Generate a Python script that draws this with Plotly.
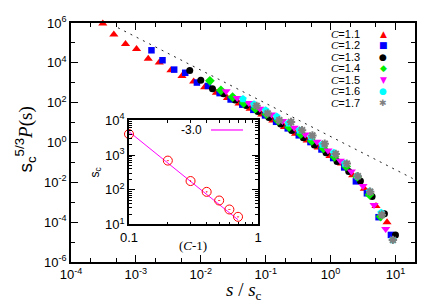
import numpy as np
import plotly.graph_objects as go

# ---------------- data (log10 values) ----------------
c11_lx = [-3.51,-3.34,-3.16,-2.99,-2.81,-2.64,-2.46,-2.29,-2.11,-1.94,-1.76,-1.59,-1.41,-1.24,-1.06,-0.89,-0.71,-0.54,-0.36,-0.19,-0.01,0.17,0.34,0.52,0.70,0.87]
c11_ly = [5.98,5.42,4.94,4.69,4.21,4.02,3.63,3.34,3.06,2.78,2.50,2.24,1.96,1.70,1.40,1.10,0.78,0.44,0.10,-0.25,-0.68,-1.05,-1.65,-2.32,-3.19,-4.0]
c12_lx = [-2.76,-2.59,-2.41,-2.24,-2.06,-1.89,-1.71,-1.54,-1.36,-1.19,-1.01,-0.84,-0.66,-0.49,-0.31,-0.14,0.04,0.21,0.39,0.56,0.74,0.93]
c12_ly = [4.63,4.13,3.66,3.50,3.01,2.84,2.48,2.16,1.90,1.64,1.36,1.04,0.71,0.36,0.02,-0.35,-0.78,-1.25,-1.95,-2.55,-3.75,-4.64]
c13_lx = [-2.17,-2.0,-1.82,-1.65,-1.47,-1.30,-1.12,-0.95,-0.77,-0.60,-0.42,-0.25,-0.07,0.10,0.28,0.46,0.64,0.83,1.0]
c13_ly = [3.61,3.13,2.70,2.45,2.14,1.86,1.56,1.26,0.93,0.60,0.24,-0.12,-0.52,-0.95,-1.45,-1.93,-2.71,-3.58,-4.64]
c14_lx = [-1.86,-1.69,-1.51,-1.34,-1.16,-0.99,-0.81,-0.64,-0.46,-0.29,-0.11,0.06,0.24,0.41,0.60,0.77]
c14_ly = [3.10,2.62,2.28,1.98,1.70,1.42,1.10,0.77,0.42,0.08,-0.30,-0.72,-1.20,-1.72,-2.62,-3.72]
c15_lx = [-1.61,-1.44,-1.26,-1.09,-0.91,-0.74,-0.56,-0.39,-0.21,-0.04,0.15,0.32,0.50,0.67,0.85]
c15_ly = [2.57,2.24,1.98,1.70,1.40,1.08,0.74,0.40,0.04,-0.40,-0.92,-1.45,-2.18,-3.14,-4.34]
c16_lx = [-1.35,-1.18,-1.0,-0.83,-0.65,-0.48,-0.30,-0.13,0.05,0.22,0.41,0.60,0.78,0.96]
c16_ly = [2.18,1.92,1.62,1.30,0.97,0.62,0.27,-0.10,-0.52,-1.05,-1.69,-2.45,-3.53,-4.89]
c17_lx = [-1.14,-0.97,-0.79,-0.61,-0.44,-0.28,-0.09,0.08,0.25,0.42,0.61,0.79,0.96]
c17_ly = [1.84,1.46,1.12,1.03,0.62,0.35,-0.06,-0.58,-1.06,-1.69,-2.47,-3.63,-4.89]

series_labels = ["1.1", "1.2", "1.3", "1.4", "1.5", "1.6", "1.7"]

# reference slope -5/3 line endpoints
ref_x = [5.3e-4, 20]
ref_y = [5.76e5, 0.0136]

# inset: s_c vs (C-1)
inset_cm1 = [0.1, 0.2, 0.3, 0.4, 0.5, 0.6, 0.7]
inset_sc = [4000, 690, 178, 87, 49, 27, 16.6]
fit_x = [0.1, 0.7]
fit_y = [4700, 13.7]
fit_label = "-3.0"

# ---------------- styles ----------------
styles = [
    dict(color="#ff0000", symbol="triangle-up", size=8),
    dict(color="#0000ff", symbol="square", size=6.5),
    dict(color="#000000", symbol="circle", size=7),
    dict(color="#00ee00", symbol="diamond", size=7.5),
    dict(color="#ff00ff", symbol="triangle-down", size=8),
    dict(color="#00ffff", symbol="pentagon", size=8),
    dict(color="#808080", symbol="asterisk-open", size=7),
]
glyphs = ["▲", "■", "●", "◆", "▼", "●", "✱"]

series = [(c11_lx, c11_ly), (c12_lx, c12_ly), (c13_lx, c13_ly), (c14_lx, c14_ly),
          (c15_lx, c15_ly), (c16_lx, c16_ly), (c17_lx, c17_ly)]

fig = go.Figure()

fig.add_trace(go.Scatter(x=ref_x, y=ref_y, mode="lines",
                         line=dict(color="#222222", width=1, dash="2px,5px"),
                         showlegend=False, xaxis="x", yaxis="y"))

for (lx, ly), st, lab in zip(series, styles, series_labels):
    mk = dict(color=st["color"], symbol=st["symbol"], size=st["size"], line=dict(width=0))
    if st["symbol"] == "asterisk-open":
        mk["line"] = dict(color=st["color"], width=2)
    fig.add_trace(go.Scatter(x=10 ** np.array(lx), y=10 ** np.array(ly), mode="markers",
                             marker=mk, name="C=" + lab, showlegend=False,
                             cliponaxis=False, xaxis="x", yaxis="y"))

# inset
fig.add_trace(go.Scatter(x=fit_x, y=fit_y, mode="lines", line=dict(color="#ff00ff", width=1),
                         showlegend=False, xaxis="x2", yaxis="y2"))
fig.add_trace(go.Scatter(x=inset_cm1, y=inset_sc, mode="markers",
                         marker=dict(symbol="circle-open-dot", size=9, color="#ff0000",
                                     line=dict(width=1, color="#ff0000")),
                         showlegend=False, cliponaxis=False, xaxis="x2", yaxis="y2"))

def pw(e):
    return "10<sup>%d</sup>" % e

tickfont = dict(family="Liberation Sans, Arial, sans-serif", size=13, color="black")
axis_common = dict(type="log", showline=True, linecolor="black", linewidth=1.5, mirror="allticks",
                   ticks="inside", tickcolor="black", tickwidth=1.2, showgrid=False, zeroline=False,
                   tickfont=tickfont)

x_major = [10.0 ** e for e in range(-4, 2)]
x_minor = [m * 10.0 ** e for e in range(-4, 2) for m in (2, 5) if m * 10.0 ** e <= 20]
y_major = [10.0 ** e for e in range(-6, 7, 2)]
y_minor = [10.0 ** e for e in range(-5, 6, 2)]

# page body has an 8px default margin: plot area lands at x 71..415, y 14..262
fig.update_layout(
    width=436, height=305,
    margin=dict(l=63, r=29, t=6, b=51),
    paper_bgcolor="white", plot_bgcolor="white",
    xaxis=dict(**axis_common, range=[-4, np.log10(20)], domain=[0, 1],
               tickvals=x_major, ticktext=[pw(e) for e in range(-4, 2)], ticklen=7,
               minor=dict(tickvals=x_minor, ticklen=4, ticks="inside", tickcolor="black")),
    yaxis=dict(**axis_common, range=[-6, 6], domain=[0, 1],
               tickvals=y_major, ticktext=[pw(e) for e in range(-6, 7, 2)], ticklen=7,
               minor=dict(tickvals=y_minor, ticklen=4, ticks="inside", tickcolor="black")),
    xaxis2=dict(**axis_common, range=[-1, 0], domain=[0.1686, 0.5436], anchor="y2",
                tickvals=[0.1, 1], ticktext=["0.1", "1"], ticklen=6,
                minor=dict(tickvals=[0.2, 0.3, 0.4, 0.5, 0.6, 0.7, 0.8, 0.9], ticklen=3,
                           ticks="inside", tickcolor="black")),
    yaxis2=dict(**axis_common, range=[1, 4], domain=[0.157, 0.593], anchor="x2",
                tickvals=[10, 100, 1000, 10000], ticktext=[pw(e) for e in range(1, 5)], ticklen=6,
                minor=dict(tickvals=[m * 10.0 ** e for e in range(1, 4) for m in range(2, 10)],
                           ticklen=3, ticks="inside", tickcolor="black")),
    showlegend=False,
)

serif = "Liberation Serif, Times New Roman, serif"
sans = "Liberation Sans, Arial, sans-serif"

def px2paper(px, py):
    return (px - 71) / 344.0, (262 - py) / 248.0

def note(px, py, text, font, xanchor="center", angle=0):
    x, y = px2paper(px, py)
    return dict(x=x, y=y, xref="paper", yref="paper", showarrow=False, xanchor=xanchor,
                yanchor="middle", textangle=angle, text=text, font=font)

ann = []
ann.append(note(244, 292, "<i>s</i> / <i>s</i><sub>c</sub>", dict(family=serif, size=19, color="black")))
ann.append(note(26, 135, "s<sub>c</sub><sup>5/3</sup><span style='font-family:Liberation Serif'><i>P</i>(s)</span>",
                dict(family=sans, size=19, color="black"), angle=-90))
ann.append(note(96, 169, "s<sub>c</sub>", dict(family=sans, size=12, color="black"), angle=-90))
ann.append(note(193, 245, "(<i>C</i>-1)", dict(family=serif, size=13, color="black")))
ann.append(note(204, 125, fit_label, dict(family=sans, size=12, color="black"), xanchor="right"))

rows = [25, 37, 49, 61, 73, 85, 97]
for lab, g, st, ry in zip(series_labels, glyphs, styles, rows):
    ann.append(note(362, ry, "<span style='font-family:Liberation Serif'><i>C</i></span>=" + lab,
                    dict(family=sans, size=11, color="black"), xanchor="right"))
    ann.append(note(383, ry, g, dict(family="DejaVu Sans", size=9, color=st["color"])))
fig.update_layout(annotations=ann)

x0, y0 = px2paper(211, 125)
x1, _ = px2paper(243, 125)
fig.add_shape(type="line", xref="paper", yref="paper", x0=x0, x1=x1, y0=y0, y1=y0,
              line=dict(color="#ff66ff", width=2))

fig.write_html("out.html")
